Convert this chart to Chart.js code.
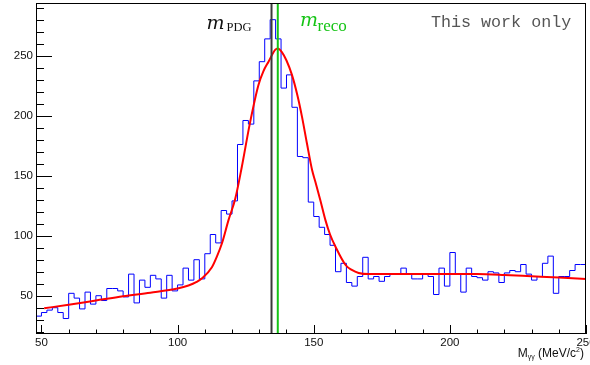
<!DOCTYPE html>
<html>
<head>
<meta charset="utf-8">
<script src="https://cdn.jsdelivr.net/npm/chart.js@4.4.1/dist/chart.umd.min.js"></script>
<style>
  html, body { margin: 0; padding: 0; background: #fff; }
  #wrap { width: 590px; height: 365px; }
</style>
</head>
<body>
<div id="wrap"><canvas id="massChart" width="590" height="365"></canvas></div>
<script>
// histogramme M_gg : bins de 2 MeV a partir de 48
const binStart = 48;
const binWidth = 2;
const counts = [
    45, 33, 36, 38, 40, 36, 31, 52, 48, 39,
    53, 43, 50, 46, 56, 56, 54, 49, 68, 44,
    63, 57, 67, 64, 48, 67, 54, 59, 73, 63,
    80, 64, 85, 101, 94, 121, 118, 129, 176, 196,
    193, 229, 245, 264, 280, 264, 223, 234, 207, 166,
    165, 128, 116, 107, 101, 92, 70, 77, 61, 58,
    66, 82, 64, 66, 62, 66, 68, 68, 73, 68,
    64, 64, 68, 66, 51, 73, 58, 86, 68, 53,
    73, 66, 65, 63, 70, 69, 61, 69, 71, 70,
    76, 68, 63, 66, 77, 83, 52, 66, 66, 71,
    76
];

// courbe de fit
const fitMass = [51, 60, 70, 80, 90, 100, 104, 107, 109, 112.6, 114.5, 116.3, 118.7, 121.2, 123.6,
    126.5, 129.7, 131.5, 133.4, 135.9, 136.8, 138.3, 140, 142, 144, 145.7, 147.5, 149.4, 150.6, 152.5,
    154.3, 156, 158, 161.7, 164, 166.5, 170.2, 180, 190, 200, 210, 220, 230, 240, 250];
const fitValue = [39.5, 42.5, 46, 49.5, 52.5, 56, 58.5, 61.5, 64.5, 73.7, 83, 93.7, 113, 131, 157.5,
    193, 225.6, 237, 245, 255, 256, 253, 246, 234, 217, 199, 177, 154.7, 145, 129,
    113, 101, 90.8, 75.6, 71.5, 69, 68, 68, 68, 68, 68, 67.3, 66.2, 65.1, 63.9];

const xTicks = [50, 100, 150, 200, 250];
const yTicks = [50, 100, 150, 200, 250];
const massPDG = 134.5;
const massReco = 136.8;

const histPoints = counts.map((c, i) => ({ x: binStart + i * binWidth, y: c }));
histPoints.push({ x: binStart + counts.length * binWidth, y: counts[counts.length - 1] });

// cadre style ROOT : ticks vers l'interieur, labels, lignes verticales, textes
const rootFrame = {
    id: 'rootFrame',
    afterDatasetsDraw(chart) {
        const { ctx, chartArea: a, scales: { x, y } } = chart;
        ctx.save();

        // lignes m_PDG / m_reco
        [[massPDG, '#3a3a3a'], [massReco, '#16c416']].forEach(([m, col]) => {
            const px = x.getPixelForValue(m);
            ctx.strokeStyle = col;
            ctx.lineWidth = 2;
            ctx.beginPath();
            ctx.moveTo(px, a.top);
            ctx.lineTo(px, a.bottom);
            ctx.stroke();
        });

        // cadre
        ctx.strokeStyle = '#000';
        ctx.lineWidth = 1;
        ctx.strokeRect(a.left + 0.5, a.top + 0.5, a.right - a.left - 1, a.bottom - a.top - 1);

        // ticks axe x
        ctx.beginPath();
        for (let v = 50; v <= 250; v += 10) {
            const px = Math.round(x.getPixelForValue(v)) + 0.5;
            const len = v % 50 === 0 ? 9 : 4.5;
            ctx.moveTo(px, a.bottom);
            ctx.lineTo(px, a.bottom - len);
        }
        // ticks axe y
        for (let v = 20; v <= 290; v += 10) {
            const py = Math.round(y.getPixelForValue(v)) + 0.5;
            const len = v % 50 === 0 ? 16 : 8;
            ctx.moveTo(a.left, py);
            ctx.lineTo(a.left + len, py);
        }
        ctx.stroke();

        // labels
        ctx.fillStyle = '#111';
        ctx.font = '11.5px "Liberation Sans", Arial, sans-serif';
        ctx.textAlign = 'center';
        ctx.textBaseline = 'top';
        xTicks.forEach(v => ctx.fillText(String(v), x.getPixelForValue(v), a.bottom + 3));
        ctx.textAlign = 'right';
        ctx.textBaseline = 'middle';
        yTicks.forEach(v => ctx.fillText(String(v), a.left - 3, y.getPixelForValue(v)));

        // titre axe x : M_gg (MeV/c^2)
        ctx.textBaseline = 'alphabetic';
        ctx.textAlign = 'left';
        const big = '12px "Liberation Sans", Arial, sans-serif';
        const small = '7px "Liberation Sans", Arial, sans-serif';
        const parts = [['M', big, 0], ['\u03b3\u03b3', small, 2.5], [' (MeV/c', big, 0], ['2', small, -5], [')', big, 0]];
        let total = 0;
        parts.forEach(([t, f]) => { ctx.font = f; total += ctx.measureText(t).width; });
        let cx = 584 - total;
        parts.forEach(([t, f, dy]) => {
            ctx.font = f;
            ctx.fillText(t, cx, 356.5 + dy);
            cx += ctx.measureText(t).width;
        });

        // m_PDG
        ctx.fillStyle = '#111';
        ctx.font = 'italic 19px "DejaVu Serif", serif';
        ctx.fillText('m', 206.5, 29.3);
        ctx.font = '12.5px "Liberation Serif", serif';
        ctx.fillText('PDG', 226.5, 31);

        // m_reco
        ctx.fillStyle = '#16c416';
        ctx.font = 'italic 19px "DejaVu Serif", serif';
        ctx.fillText('m', 300, 25.7);
        ctx.font = '17px "Liberation Serif", serif';
        ctx.fillText('reco', 317.5, 30.7);

        // mention
        ctx.fillStyle = '#555';
        ctx.font = '16.7px "Liberation Mono", monospace';
        ctx.fillText('This work only', 431, 27.3);

        ctx.restore();
    }
};

const ctx = document.getElementById('massChart').getContext('2d');
new Chart(ctx, {
    type: 'line',
    data: {
        datasets: [
            {
                data: fitMass.map((m, i) => ({ x: m, y: fitValue[i] })),
                borderColor: '#ff0000',
                borderWidth: 2,
                pointRadius: 0,
                cubicInterpolationMode: 'monotone',
                fill: false,
                order: 0
            },
            {
                data: histPoints,
                borderColor: '#0000ff',
                borderWidth: 1,
                pointRadius: 0,
                stepped: 'after',
                fill: false,
                order: 1
            }
        ]
    },
    options: {
        responsive: false,
        animation: false,
        layout: { padding: { left: 36, right: 4, top: 3, bottom: 31 } },
        scales: {
            x: { type: 'linear', min: 48, max: 250, display: false },
            y: { type: 'linear', min: 18.1, max: 293.9, display: false }
        },
        plugins: { legend: { display: false }, tooltip: { enabled: false } }
    },
    plugins: [rootFrame]
});
</script>
</body>
</html>
